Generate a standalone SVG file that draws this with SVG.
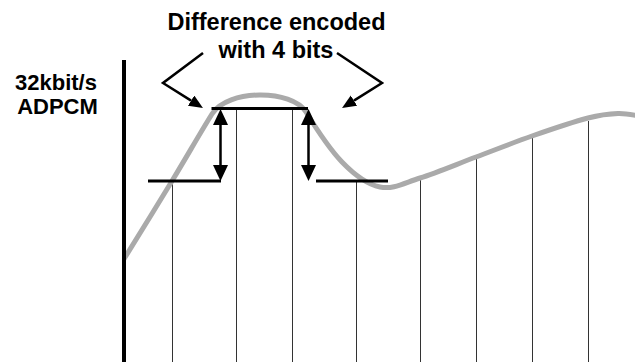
<svg xmlns="http://www.w3.org/2000/svg" width="635" height="362" viewBox="0 0 635 362">
  <style>
    .label { font-family: "Liberation Sans", Arial, sans-serif; font-weight: bold; font-size: 23.5px; fill: #000; }
    .rate { font-size: 22px; }
    .sample { stroke: #333; stroke-width: 1; fill: none; }
    .level { stroke: #000; stroke-width: 3; fill: none; }
    .diff { stroke: #000; stroke-width: 2.5; fill: none; marker-start: url(#head-lg); marker-end: url(#head-lg); }
    .callout { stroke: #000; stroke-width: 2.5; fill: none; stroke-linejoin: miter; marker-end: url(#head-sm); }
    .signal { stroke: #aaa; stroke-width: 5; fill: none; stroke-linecap: butt; }
  </style>
  <defs>
    <marker id="head-lg" markerUnits="userSpaceOnUse" markerWidth="17" markerHeight="16" refX="0" refY="7.5" orient="auto-start-reverse">
      <path d="M0,0 L16,7.5 L0,15 z" fill="#000"/>
    </marker>
    <marker id="head-sm" markerUnits="userSpaceOnUse" markerWidth="15" markerHeight="13" refX="0" refY="6" orient="auto">
      <path d="M0,0 L14,6 L0,12 z" fill="#000"/>
    </marker>
  </defs>

  <rect width="635" height="362" fill="#fff"/>

  <!-- title and axis label -->
  <g id="title">
    <text class="label" x="276.5" y="29.5" text-anchor="middle">Difference encoded</text>
    <text class="label" x="276" y="57.5" text-anchor="middle">with 4 bits</text>
  </g>
  <g id="rate-label">
    <text class="label rate" x="56" y="90" text-anchor="middle">32kbit/s</text>
    <text class="label rate" x="57.5" y="113.5" text-anchor="middle">ADPCM</text>
  </g>

  <!-- sample instants -->
  <g id="samples">
    <line class="sample" x1="172.5" y1="181" x2="172.5" y2="362"/>
    <line class="sample" x1="236.5" y1="108" x2="236.5" y2="362"/>
    <line class="sample" x1="292.5" y1="108" x2="292.5" y2="362"/>
    <line class="sample" x1="356.5" y1="181" x2="356.5" y2="362"/>
    <line class="sample" x1="420.5" y1="179" x2="420.5" y2="362"/>
    <line class="sample" x1="476.5" y1="155" x2="476.5" y2="362"/>
    <line class="sample" x1="532.5" y1="138" x2="532.5" y2="362"/>
    <line class="sample" x1="588.5" y1="121" x2="588.5" y2="362"/>
  </g>

  <!-- analogue signal -->
  <g id="signal">
    <path class="signal" d="M124,259 C132,246 157.3,205.2 172,181 C186.7,156.8 200,133.2 212,114 C227.6,89 292,89 306,112 C314,125 329.3,148.8 342,162 C354.7,175.2 366.7,184.3 380,187 C393.3,189.7 404,183 420,178 C436,173 457.3,164 476,157 C494.7,150 513.3,142.5 532,136 C550.7,129.5 573.7,121.75 588,118 C602.3,114.25 609.3,113.8 618,113.5 C626.7,113.2 636.3,115.6 640,116"/>
  </g>

  <!-- amplitude axis -->
  <g id="axis">
    <line x1="124" y1="60" x2="124" y2="362" stroke="#000" stroke-width="4"/>
  </g>

  <!-- quantised levels -->
  <g id="levels">
    <line class="level" x1="148" y1="181" x2="221" y2="181"/>
    <line class="level" x1="211.5" y1="108.5" x2="308" y2="108.5"/>
    <line class="level" x1="316" y1="181" x2="388" y2="181"/>
  </g>

  <g id="connectors">
    <!-- differences between successive levels -->
    <line class="diff" x1="220.5" y1="125" x2="220.5" y2="165"/>
    <line class="diff" x1="308.5" y1="125" x2="308.5" y2="165"/>
    <!-- callouts from the title -->
    <polyline class="callout" points="203,53 163,83 191.1,100.6"/>
    <polyline class="callout" points="337,53 382,83 353.9,100.6"/>
  </g>
</svg>
